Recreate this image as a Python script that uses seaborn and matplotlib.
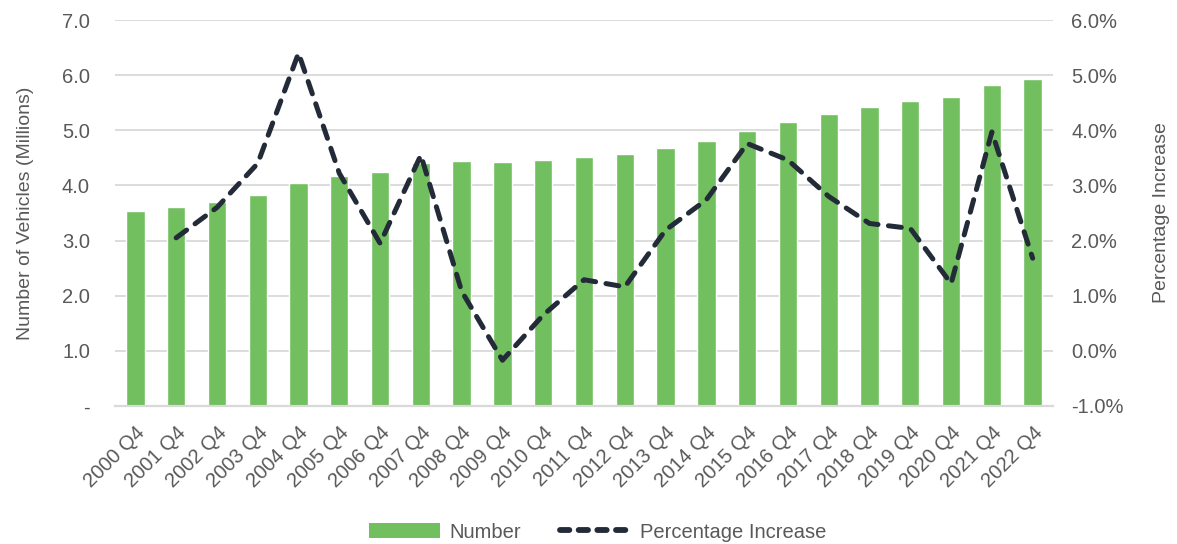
import numpy as np
import pandas as pd
import matplotlib
matplotlib.use("Agg")
import matplotlib.pyplot as plt
from matplotlib.ticker import FuncFormatter, MultipleLocator
from matplotlib.patches import Patch
from matplotlib.lines import Line2D
import seaborn as sns

# Licensed vehicles at end of Q4 each year (millions) and annual % increase
quarters = [f"{y} Q4" for y in range(2000, 2023)]
vehicles_m = [3.53, 3.60, 3.70, 3.83, 4.04, 4.17, 4.24, 4.40, 4.44, 4.43, 4.46, 4.52,
              4.57, 4.67, 4.80, 4.98, 5.15, 5.30, 5.42, 5.54, 5.61, 5.83, 5.93]
pct_quarters = quarters[1:]
pct_increase = [2.05, 2.60, 3.40, 5.40, 3.22, 1.95, 3.55, 1.08, -0.17, 0.65, 1.29, 1.16,
                2.19, 2.74, 3.76, 3.46, 2.80, 2.31, 2.22, 1.22, 3.97, 1.68]

BAR_GREEN = "#72BF5F"
LINE_NAVY = "#232B38"
TEXT_GREY = "#595959"
GRID_GREY = "#D9D9D9"

sns.set_theme(style="white")
plt.rcParams["font.family"] = ["Liberation Sans", "DejaVu Sans"]

bars = pd.DataFrame({"quarter": quarters, "vehicles": vehicles_m})
line = pd.DataFrame({"pos": [quarters.index(q) for q in pct_quarters],
                     "pct": pct_increase})

fig = plt.figure(figsize=(11.77, 5.44), dpi=100)
ax = fig.add_axes([0.0977, 0.2537, 0.797, 0.7095])

sns.barplot(data=bars, x="quarter", y="vehicles", color=BAR_GREEN,
            saturation=1, width=0.45, ax=ax, zorder=2)
ax.set_xlim(-0.5, len(quarters) - 0.5)
ax.set_ylim(0, 7)
ax.yaxis.set_major_locator(MultipleLocator(1))
ax.yaxis.set_major_formatter(FuncFormatter(lambda v, _: "-" if abs(v) < 1e-9 else f"{v:.1f}"))
ax.grid(axis="y", color=GRID_GREY, linewidth=1.3, zorder=0)
ax.set_axisbelow(True)
for s in ["left", "right", "top"]:
    ax.spines[s].set_visible(False)
ax.spines["bottom"].set_color(GRID_GREY)
ax.spines["bottom"].set_linewidth(1.6)
ax.set_xlabel("")
ax.set_ylabel("Number of Vehicles (Millions)", color=TEXT_GREY, fontsize=14, labelpad=20)
ax.tick_params(axis="y", colors=TEXT_GREY, labelsize=14.5, length=0, pad=18)
ax.tick_params(axis="x", colors=TEXT_GREY, labelsize=14.5, length=0, pad=12)
plt.setp(ax.get_xticklabels(), rotation=45, ha="right", rotation_mode="anchor")

ax2 = ax.twinx()
sns.lineplot(data=line, x="pos", y="pct", ax=ax2, color=LINE_NAVY, linewidth=3.6,
             zorder=3)
ln = ax2.lines[0]
ln.set_dashes((2.6, 2.1))
ln.set_dash_capstyle("round")
ln.set_solid_joinstyle("round")
ax2.set_ylim(-1, 6)
ax2.yaxis.set_major_locator(MultipleLocator(1))
ax2.yaxis.set_major_formatter(FuncFormatter(lambda v, _: f"{v:.1f}%"))
ax2.tick_params(axis="y", colors=TEXT_GREY, labelsize=14.5, length=0, pad=13)
ax2.set_ylabel("Percentage Increase", color=TEXT_GREY, fontsize=14, labelpad=21)
ax2.set_xlabel("")
ax2.grid(False)
for s in ["left", "right", "top", "bottom"]:
    ax2.spines[s].set_visible(False)

handles = [Patch(facecolor=BAR_GREEN, edgecolor="none"),
           Line2D([0], [0], color=LINE_NAVY, linewidth=4.2, dashes=(1.6, 1.6),
                  dash_capstyle="round")]
fig.legend(handles, ["Number", "Percentage Increase"], loc="center",
           bbox_to_anchor=(0.508, 0.022), ncol=2, frameon=False, fontsize=14.5,
           labelcolor=TEXT_GREY, handlelength=3.5, handleheight=0.7,
           columnspacing=1.9, handletextpad=0.5)

fig.savefig("out.png", dpi=100)
